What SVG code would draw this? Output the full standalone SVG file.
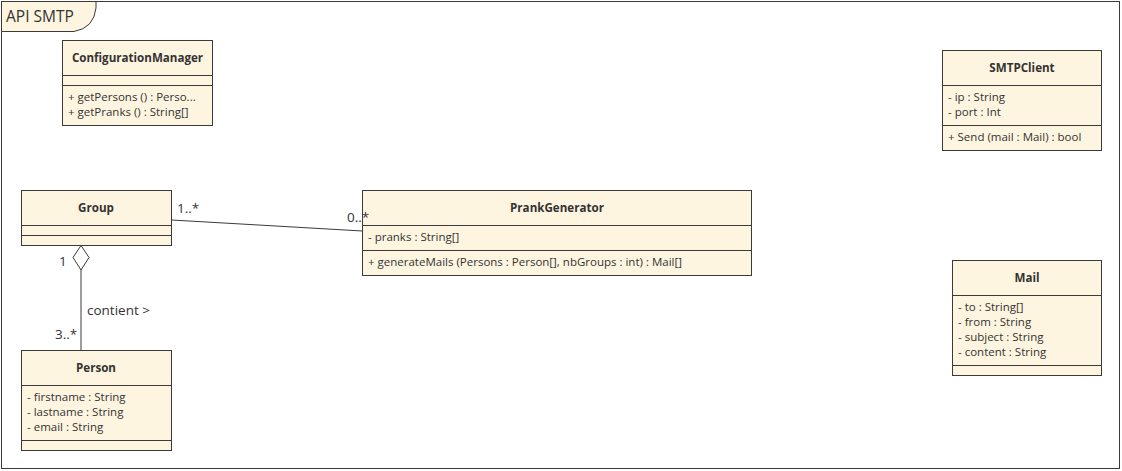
<svg xmlns="http://www.w3.org/2000/svg" width="1122" height="471" viewBox="0 0 1122 471">
<style>
.box{fill:#fef5e0;stroke:#3a3a3a;stroke-width:1}
.ln{stroke:#3a3a3a;stroke-width:1;fill:none}
.t{font-family:"Open Sans","Noto Sans",sans-serif;font-size:11.5px;fill:#333}
.h{font-family:"Open Sans","Noto Sans",sans-serif;font-size:11.6px;font-weight:bold;fill:#333;text-anchor:middle}
.l{font-family:"Open Sans","Noto Sans",sans-serif;font-size:13.5px;fill:#333}
</style>
<rect x="0" y="0" width="1122" height="471" fill="#fff"/>
<g id="frame">
<rect x="1.5" y="1.5" width="1118" height="467" fill="none" stroke="#3a3a3a"/>
<path d="M1.5 1.5 H96 V8 Q94 28 74 31.5 H1.5 Z" fill="#fef5e0" stroke="#3a3a3a"/>
<text class="l" x="6" y="22" style="font-size:15.5px">API SMTP</text>
</g>
<g id="ConfigurationManager">
<rect class="box" x="62.5" y="40.5" width="150" height="85"/>
<line class="ln" x1="62.5" y1="75.5" x2="212.5" y2="75.5"/>
<line class="ln" x1="62.5" y1="85.5" x2="212.5" y2="85.5"/>
<text class="h" x="137.5" y="62">ConfigurationManager</text>
<text class="t" x="68" y="101">+ getPersons () : Perso...</text>
<text class="t" x="68" y="116">+ getPranks () : String[]</text>
</g>
<g id="SMTPClient">
<rect class="box" x="942.5" y="50.5" width="159" height="100"/>
<line class="ln" x1="942.5" y1="85.5" x2="1101.5" y2="85.5"/>
<line class="ln" x1="942.5" y1="125.5" x2="1101.5" y2="125.5"/>
<text class="h" x="1022" y="72">SMTPClient</text>
<text class="t" x="948" y="101">- ip : String</text>
<text class="t" x="948" y="116">- port : Int</text>
<text class="t" x="948" y="141">+ Send (mail : Mail) : bool</text>
</g>
<g id="Group">
<rect class="box" x="21.5" y="190.5" width="150" height="55"/>
<line class="ln" x1="21.5" y1="225.5" x2="171.5" y2="225.5"/>
<line class="ln" x1="21.5" y1="235.5" x2="171.5" y2="235.5"/>
<text class="h" x="96" y="212">Group</text>
</g>
<g id="PrankGenerator">
<rect class="box" x="362.5" y="190.5" width="389" height="85"/>
<line class="ln" x1="362.5" y1="225.5" x2="751.5" y2="225.5"/>
<line class="ln" x1="362.5" y1="250.5" x2="751.5" y2="250.5"/>
<text class="h" x="557" y="212">PrankGenerator</text>
<text class="t" x="368" y="241">- pranks : String[]</text>
<text class="t" x="368" y="266">+ generateMails (Persons : Person[], nbGroups : int) : Mail[]</text>
</g>
<g id="Person">
<rect class="box" x="21.5" y="350.5" width="150" height="100"/>
<line class="ln" x1="21.5" y1="385.5" x2="171.5" y2="385.5"/>
<line class="ln" x1="21.5" y1="440.5" x2="171.5" y2="440.5"/>
<text class="h" x="96" y="372">Person</text>
<text class="t" x="27" y="401">- firstname : String</text>
<text class="t" x="27" y="416">- lastname : String</text>
<text class="t" x="27" y="431">- email : String</text>
</g>
<g id="Mail">
<rect class="box" x="952.5" y="260.5" width="149" height="115"/>
<line class="ln" x1="952.5" y1="295.5" x2="1101.5" y2="295.5"/>
<line class="ln" x1="952.5" y1="365.5" x2="1101.5" y2="365.5"/>
<text class="h" x="1027" y="282">Mail</text>
<text class="t" x="958" y="311">- to : String[]</text>
<text class="t" x="958" y="326">- from : String</text>
<text class="t" x="958" y="341">- subject : String</text>
<text class="t" x="958" y="356">- content : String</text>
</g>
<g id="connectors">
<line class="ln" x1="171.5" y1="220" x2="362.5" y2="231"/>
<text class="l" x="177" y="213">1..*</text>
<text class="l" x="347" y="222">0..*</text>
<path d="M81 245.5 L89 257.5 L81 270 L73 257.5 Z" fill="#fff" stroke="#3a3a3a"/>
<line class="ln" x1="81" y1="270" x2="81" y2="350.5"/>
<text class="l" x="59" y="266">1</text>
<text class="l" x="87" y="315">contient &gt;</text>
<text class="l" x="55" y="339">3..*</text>
</g>
</svg>
